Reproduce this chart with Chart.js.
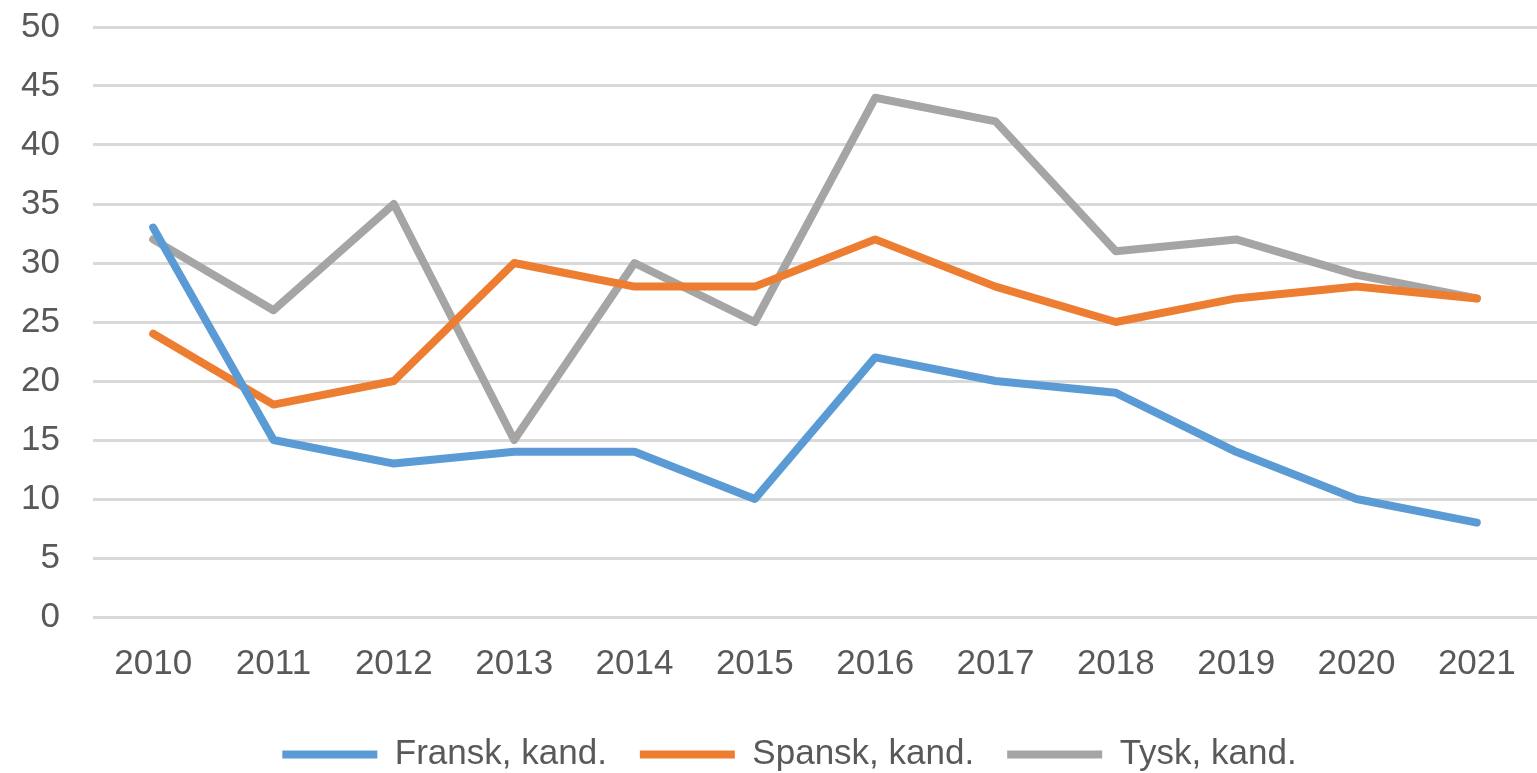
<!DOCTYPE html>
<html>
<head>
<meta charset="utf-8">
<script src="https://cdn.jsdelivr.net/npm/chart.js@4/dist/chart.umd.min.js"></script>
<style>
html,body{margin:0;padding:0;background:#fff;}
#wrap{width:1537px;height:773px;}
</style>
</head>
<body>
<div id="wrap"><canvas id="c" width="1537" height="773"></canvas></div>
<script>
const years = ['2010','2011','2012','2013','2014','2015','2016','2017','2018','2019','2020','2021'];
const fransk = [33, 15, 13, 14, 14, 10, 22, 20, 19, 14, 10, 8];
const spansk = [24, 18, 20, 30, 28, 28, 32, 28, 25, 27, 28, 27];
const tysk   = [32, 26, 35, 15, 30, 25, 44, 42, 31, 32, 29, 27];
const seriesNames = ['Fransk, kand.', 'Spansk, kand.', 'Tysk, kand.'];
const colors = ['#5b9bd5', '#ed7d31', '#a5a5a5'];

const font = "'Liberation Sans', Arial, sans-serif";
const txt = '#595959';

function ds(label, data, color){
  return {label, data, borderColor: color, backgroundColor: color, borderWidth: 8,
    pointRadius: 0, pointHoverRadius: 0, tension: 0, fill: false, borderCapStyle: 'round', borderJoinStyle: 'round'};
}

const shiftLegend = {
  id: 'shiftLegend',
  afterLayout(chart){
    const lg = chart.legend;
    if (!lg) return;
    lg.left += 12; lg.right += 12;
    lg.top += 9; lg.bottom += 9;
  }
};

new Chart(document.getElementById('c'), {
  type: 'line',
  data: {
    labels: years,
    datasets: [ds(seriesNames[0], fransk, colors[0]), ds(seriesNames[1], spansk, colors[1]), ds(seriesNames[2], tysk, colors[2])]
  },
  plugins: [shiftLegend],
  options: {
    responsive: false,
    animation: false,
    layout: {padding: {top: 27, left: 18, right: 0, bottom: 0}},
    plugins: {
      tooltip: {enabled: false},
      legend: {
        position: 'bottom',
        labels: {
          boxWidth: 95, boxHeight: 8, padding: 33, color: txt,
          font: {family: font, size: 35},
          generateLabels: function(chart){
            return Chart.defaults.plugins.legend.labels.generateLabels(chart).map(function(l){ l.lineWidth = 0; return l; });
          }
        }
      }
    },
    scales: {
      x: {
        offset: true,
        grid: {display: false},
        border: {display: false},
        ticks: {color: txt, font: {family: font, size: 35}, padding: 18, maxRotation: 0},
        afterFit: function(s){ s.height = 78; }
      },
      y: {
        min: 0, max: 50,
        ticks: {stepSize: 5, color: txt, font: {family: font, size: 35}, padding: 0},
        grid: {color: '#d9d9d9', lineWidth: 3, drawTicks: true, tickLength: 33, tickColor: 'rgba(0,0,0,0)'},
        border: {display: false},
        afterFit: function(s){ s.width = 75; }
      }
    }
  }
});
</script>
</body>
</html>
